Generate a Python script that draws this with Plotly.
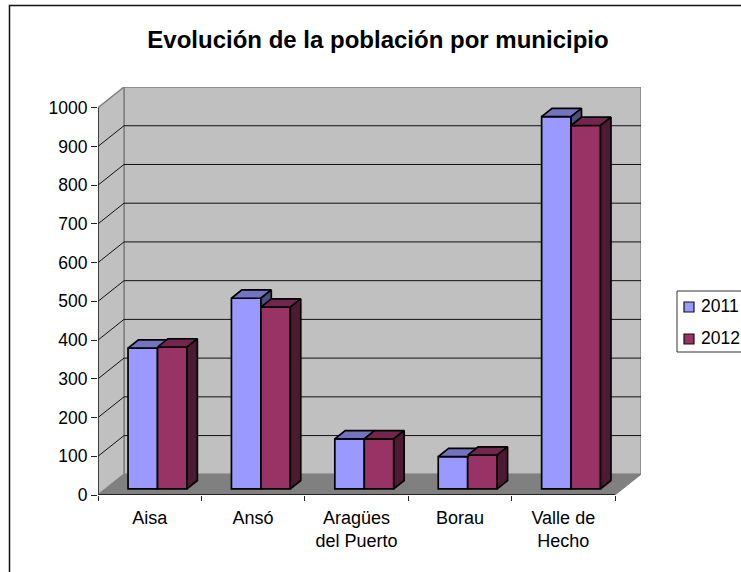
import plotly.graph_objects as go

categories = ["Aisa", "Ansó", "Aragües<br>del Puerto", "Borau", "Valle de<br>Hecho"]
values_2011 = [363, 492, 129, 83, 961]
values_2012 = [366, 469, 129, 87, 938]
y_ticks = [0, 100, 200, 300, 400, 500, 600, 700, 800, 900, 1000]
series_names = ["2011", "2012"]

W, H = 741, 572
L, R, T, B = 98, 641, 87, 495      # plot area in pixels
DX, DY = 0.2515, 53.4              # depth of the 3D box in axis units
BAR_W = 0.285
D0, D1 = 0.3, 0.7                  # depth span of bars inside the box
FONT = "Liberation Sans"
n = len(categories)

FACES = {
    "2011": ("#9999FF", "#7373BF", "#4D4D80"),
    "2012": ("#993366", "#73264D", "#4D1A33"),
}
ymax = y_ticks[-1]


def path(pts):
    return "M" + " L".join(f"{x},{y}" for x, y in pts) + " Z"


shapes = []
# walls and floor
shapes.append(dict(type="path", layer="below", xref="x", yref="y",
                   path=path([(DX, DY), (n + DX, DY), (n + DX, ymax + DY), (DX, ymax + DY)]),
                   fillcolor="#C0C0C0", line=dict(color="#808080", width=1.5)))
shapes.append(dict(type="path", layer="below", xref="x", yref="y",
                   path=path([(0, 0), (DX, DY), (DX, ymax + DY), (0, ymax)]),
                   fillcolor="#C0C0C0", line=dict(color="#808080", width=1.5)))
shapes.append(dict(type="path", layer="below", xref="x", yref="y",
                   path=path([(0, 0), (n, 0), (n + DX, DY), (DX, DY)]),
                   fillcolor="#808080", line=dict(color="#808080", width=1)))
# gridlines
for t in y_ticks[1:-1]:
    shapes.append(dict(type="path", layer="below", xref="x", yref="y",
                       path=f"M0,{t} L{DX},{t + DY} L{n + DX},{t + DY}",
                       line=dict(color="#111111", width=1)))
# axis lines
shapes.append(dict(type="line", xref="x", yref="y", x0=0, x1=0, y0=0, y1=ymax,
                   line=dict(color="#222222", width=1.5)))
shapes.append(dict(type="line", xref="x", yref="y", x0=0, x1=n, y0=0, y1=0,
                   line=dict(color="#222222", width=2)))


def xp(v):
    return (v - L) / (R - L)


def yp(v):
    return (B - v) / (B - T)


# outer chart frame (runs off the right and bottom of the image)
shapes.append(dict(type="path", xref="paper", yref="paper", layer="below",
                   path=f"M{xp(9.5)},{yp(H)} L{xp(9.5)},{yp(5.5)} L{xp(W)},{yp(5.5)}",
                   line=dict(color="#111111", width=1.5)))

# legend box and swatches
shapes.append(dict(type="rect", xref="paper", yref="paper", x0=xp(677), x1=xp(745), y0=yp(352), y1=yp(291),
                   line=dict(color="#333333", width=1), fillcolor="white"))
annotations = []
for name, cy in zip(series_names, (307, 339)):
    shapes.append(dict(type="rect", xref="paper", yref="paper", x0=xp(684), x1=xp(694),
                       y0=yp(cy + 5), y1=yp(cy - 5), fillcolor=FACES[name][0],
                       line=dict(color="#111111", width=1.2)))
    annotations.append(dict(text=name, xref="paper", yref="paper", x=xp(698.5), y=yp(cy - 1),
                            xanchor="left", yanchor="middle", showarrow=False,
                            font=dict(family=FONT, size=17.5, color="#000000")))

fig = go.Figure()
centers = [i + 0.5 for i in range(n)]
sx, sy = DX * D0, DY * D0
ex, ey = DX * (D1 - D0), DY * (D1 - D0)

for k, (name, vals) in enumerate(zip(series_names, (values_2011, values_2012))):
    off = (k - 0.5) * BAR_W + sx
    fig.add_trace(go.Bar(x=[c + off for c in centers], y=vals, base=[sy] * n, width=BAR_W, name=name,
                         marker=dict(color=FACES[name][0], line=dict(color="#000000", width=1.7)),
                         showlegend=False, hoverinfo="skip"))

LW = dict(color="#000000", width=1.7)
for i in range(n):
    v1, v2 = values_2011[i], values_2012[i]
    for k, (name, v) in enumerate(zip(series_names, (v1, v2))):
        x0 = centers[i] + (k - 1) * BAR_W + sx
        x1 = x0 + BAR_W
        top = v + sy
        fig.add_trace(go.Scatter(x=[x0, x1, x1 + ex, x0 + ex, x0],
                                 y=[top, top, top + ey, top + ey, top],
                                 fill="toself", fillcolor=FACES[name][1], mode="lines", line=LW,
                                 showlegend=False, hoverinfo="skip"))
        if k == 0:
            if v1 > v2:
                low = v2 + sy
            else:
                continue
        else:
            low = sy
        fig.add_trace(go.Scatter(x=[x1, x1 + ex, x1 + ex, x1, x1],
                                 y=[top, top + ey, low + ey if k == 1 else low, low, top],
                                 fill="toself", fillcolor=FACES[name][2], mode="lines", line=LW,
                                 showlegend=False, hoverinfo="skip"))

fig.update_layout(
    width=W, height=H, autosize=False,
    margin=dict(l=L, r=W - R, t=T, b=H - B, pad=0),
    paper_bgcolor="white", plot_bgcolor="white",
    barmode="overlay", showlegend=False,
    title=dict(text="<b>Evolución de la población por municipio</b>", x=378 / W, y=1 - 40 / H,
               xanchor="center", yanchor="middle", font=dict(family=FONT, size=24, color="#000000")),
    shapes=shapes, annotations=annotations,
    xaxis=dict(range=[0, n + DX], showgrid=False, zeroline=False, showline=False,
               tickmode="array", tickvals=centers, ticktext=categories, ticks="",
               ticklabelstandoff=10,
               minor=dict(tickmode="array", tickvals=list(range(n + 1)), ticks="outside", ticklen=5,
                          tickcolor="#222222", tickwidth=1),
               tickfont=dict(family=FONT, size=18, color="#000000")),
    yaxis=dict(range=[0, ymax + DY], showgrid=False, zeroline=False, showline=False,
               tickmode="array", tickvals=y_ticks, ticks="outside", ticklen=6,
               tickcolor="#222222", tickwidth=1,
               tickfont=dict(family=FONT, size=17.5, color="#000000")),
)
fig.write_html("out.html", config=dict(displayModeBar=False),
               post_script="document.body.style.margin='0';document.body.style.overflow='hidden';")
